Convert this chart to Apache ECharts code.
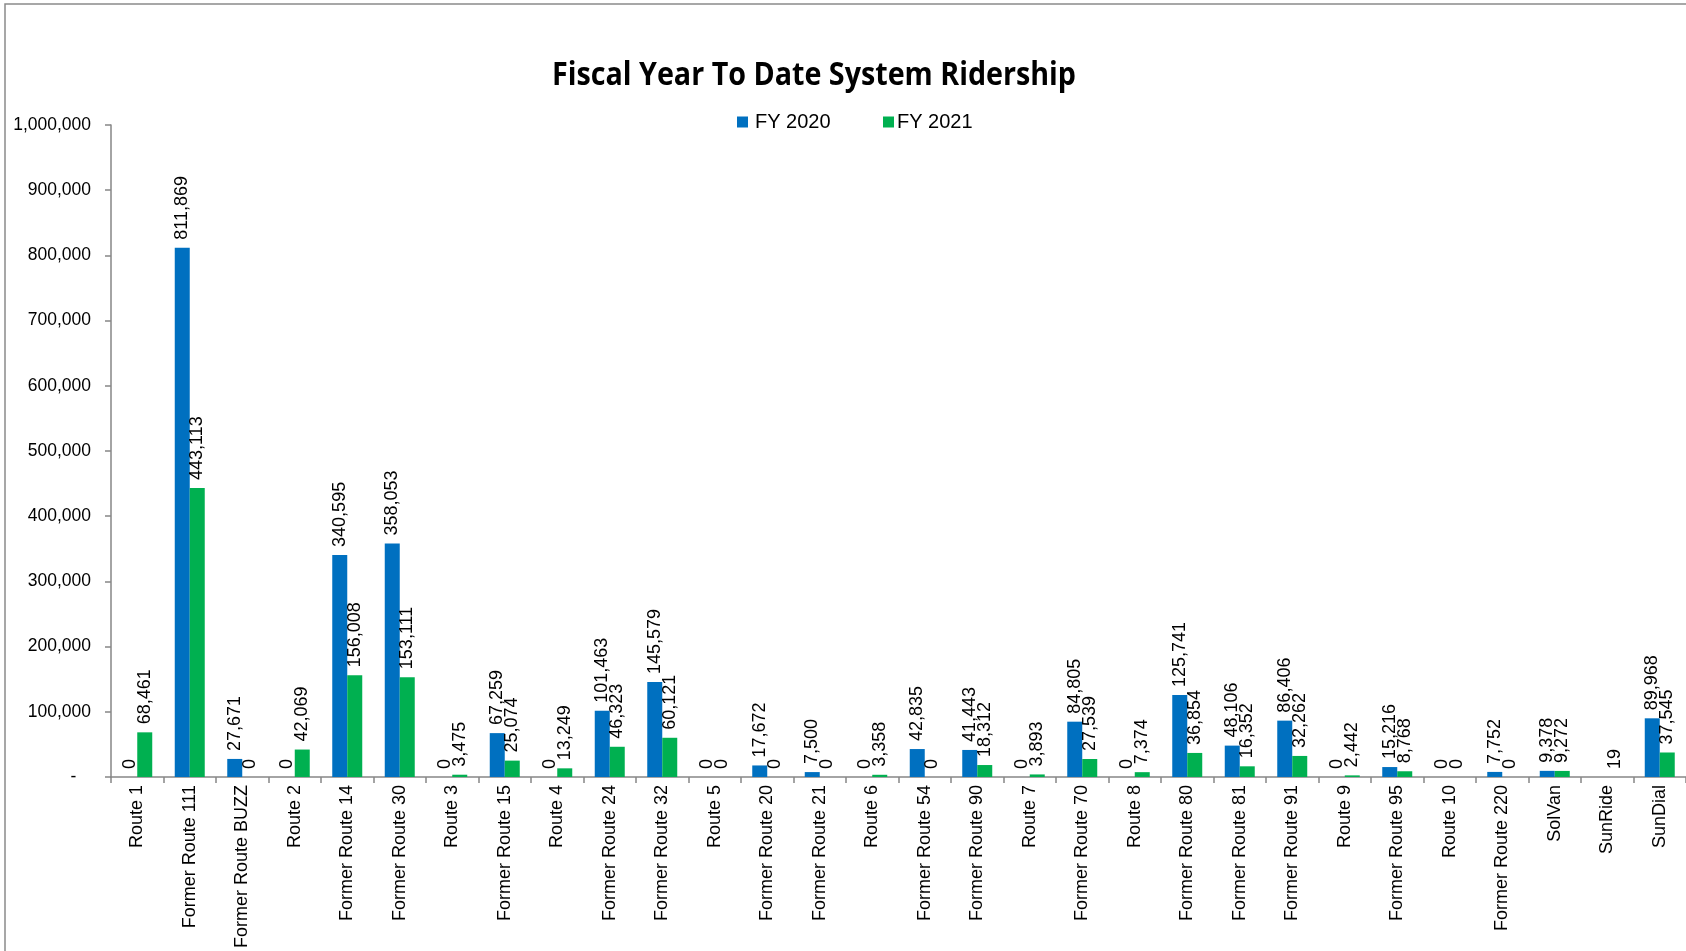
<!DOCTYPE html>
<html>
<head>
<meta charset="utf-8">
<script src="https://cdn.jsdelivr.net/npm/echarts@6/dist/echarts.min.js"></script>
<style>
  html, body { margin: 0; padding: 0; background: #ffffff; }
  #chart { width: 1686px; height: 951px; }
</style>
</head>
<body>
<div id="chart"></div>
<script>
// Route names along the category axis
const routes = [
  'Route 1', 'Former Route 111', 'Former Route BUZZ', 'Route 2', 'Former Route 14',
  'Former Route 30', 'Route 3', 'Former Route 15', 'Route 4', 'Former Route 24',
  'Former Route 32', 'Route 5', 'Former Route 20', 'Former Route 21', 'Route 6',
  'Former Route 54', 'Former Route 90', 'Route 7', 'Former Route 70', 'Route 8',
  'Former Route 80', 'Former Route 81', 'Former Route 91', 'Route 9', 'Former Route 95',
  'Route 10', 'Former Route 220', 'SolVan', 'SunRide', 'SunDial'
];

// Year-to-date boardings per route
const fy2020 = [
  0, 811869, 27671, 0, 340595,
  358053, 0, 67259, 0, 101463,
  145579, 0, 17672, 7500, 0,
  42835, 41443, 0, 84805, 0,
  125741, 48106, 86406, 0, 15216,
  0, 7752, 9378, null, 89968
];
const fy2021 = [
  68461, 443113, 0, 42069, 156008,
  153111, 3475, 25074, 13249, 46323,
  60121, 0, 0, 0, 3358,
  0, 18312, 3893, 27539, 7374,
  36854, 16352, 32262, 2442, 8768,
  0, 0, 9272, 19, 37545
];

const seriesNames = ['FY 2020', 'FY 2021'];
const yTicks = { min: 0, max: 1000000, step: 100000 };
const titleText = 'Fiscal Year To Date System Ridership';

const FONT = '"Liberation Sans", Arial, sans-serif';
const TITLE_FONT = 'bold 33px "Open Sans", sans-serif';

// Condense the heading horizontally to a fixed width
const ctx = document.createElement('canvas').getContext('2d');
ctx.font = TITLE_FONT;
const titleScaleX = 524 / ctx.measureText(titleText).width;

const fmt = v => v.toString().replace(/\B(?=(\d{3})+(?!\d))/g, ',');

const barLabel = {
  show: true,
  position: 'top',
  rotate: 90,
  align: 'left',
  verticalAlign: 'middle',
  distance: 8,
  color: '#000',
  fontFamily: FONT,
  fontSize: 18,
  formatter: p => fmt(p.value)
};

const chart = echarts.init(document.getElementById('chart'), null, { renderer: 'canvas' });

chart.setOption({
  animation: false,
  backgroundColor: '#ffffff',
  graphic: [
    {
      type: 'rect',
      shape: { x: 5, y: 4, width: 1800, height: 1100 },
      style: { fill: 'none', stroke: '#8a8a8a', lineWidth: 1.5 },
      silent: true
    },
    {
      type: 'text',
      x: 814, y: 76,
      scaleX: titleScaleX,
      style: {
        text: titleText,
        font: TITLE_FONT,
        fill: '#000',
        textAlign: 'center',
        textVerticalAlign: 'middle'
      }
    }
  ],
  legend: [
    {
      data: [seriesNames[0]],
      left: 732, top: 107,
      itemWidth: 11, itemHeight: 11,
      icon: 'rect',
      textStyle: { fontFamily: FONT, fontSize: 20, color: '#000', padding: [0, 0, 0, 2] }
    },
    {
      data: [seriesNames[1]],
      left: 878, top: 107,
      itemWidth: 11, itemHeight: 11,
      icon: 'rect',
      textStyle: { fontFamily: FONT, fontSize: 20, color: '#000', padding: [0, 0, 0, -2] }
    }
  ],
  grid: { left: 111, right: 0, top: 125, bottom: 169, containLabel: false },
  xAxis: {
    type: 'category',
    data: routes,
    axisLine: { lineStyle: { color: '#868686', width: 1.5 } },
    axisTick: { show: true, length: 6, lineStyle: { color: '#868686', width: 1.5 } },
    axisLabel: {
      rotate: 90,
      margin: 8,
      interval: 0,
      color: '#000',
      fontFamily: FONT,
      fontSize: 18
    }
  },
  yAxis: {
    type: 'value',
    min: yTicks.min,
    max: yTicks.max,
    interval: yTicks.step,
    splitLine: { show: false },
    axisLine: { show: true, lineStyle: { color: '#868686', width: 1.5 } },
    axisTick: { show: true, length: 6, lineStyle: { color: '#868686', width: 1.5 } },
    axisLabel: {
      margin: 20,
      color: '#000',
      fontFamily: FONT,
      fontSize: 17.5,
      formatter: v => (v === 0 ? '-   ' : fmt(v))
    }
  },
  series: [
    {
      name: seriesNames[0],
      type: 'bar',
      data: fy2020,
      barWidth: 15,
      barGap: '0%',
      itemStyle: { color: '#0070C0' },
      label: barLabel
    },
    {
      name: seriesNames[1],
      type: 'bar',
      data: fy2021,
      barWidth: 15,
      barGap: '0%',
      itemStyle: { color: '#00B050' },
      label: barLabel
    }
  ]
});
</script>
</body>
</html>
